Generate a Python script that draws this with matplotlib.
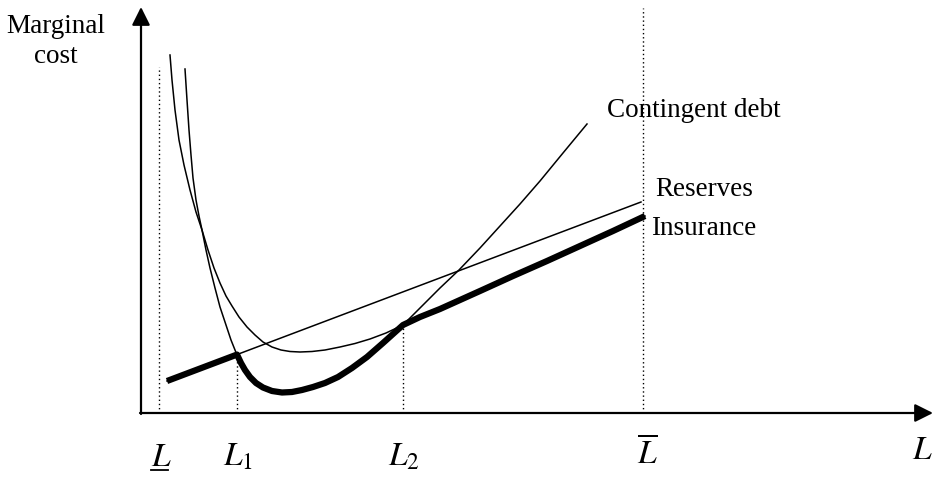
import matplotlib
matplotlib.use("Agg")
import matplotlib.pyplot as plt
import numpy as np

plt.rcParams["font.family"] = ["Liberation Serif", "DejaVu Serif"]
plt.rcParams["mathtext.fontset"] = "stix"

# curves (L on x, marginal cost on y)
ins_L = [29, 31, 34, 38, 43, 49, 55, 61, 67, 73, 79, 85, 91, 98, 106, 114, 122, 131, 140, 149,
         159, 171, 184, 199, 214, 229, 245, 262, 279, 299, 319, 339, 372, 406, 439, 472, 504]
ins_mc = [358, 333, 303, 273, 248, 223, 201, 183, 163, 145, 130, 117, 107, 96, 86, 78, 71, 66, 63, 61.5,
          61, 61.5, 63, 66, 69.5, 74, 80, 88, 96, 104, 113, 122, 137, 152, 167, 182, 197]

debt_L = [44, 46, 48, 50, 52, 55, 58, 61, 65, 69, 74, 79, 85, 90, 96, 100, 104, 109, 115, 122,
          131, 141, 151, 161, 172, 184, 197, 211, 226, 242, 262, 280, 299, 318, 339, 359, 379, 399, 422, 446]
debt_mc = [344, 313, 283, 258, 235, 213, 197, 183, 163, 145, 125, 106, 88, 73, 58, 50, 43, 36, 30, 25.5,
           22, 20.5, 21, 23, 26, 30, 36, 45, 56, 70, 88, 106, 125, 143, 165, 187, 209, 232, 260, 289]

res_L = [26, 500]
res_mc = [32, 211]

# marked levels on the L axis
L_low, L1, L2, L_bar = 18, 96, 262, 502
L_low_top, L_bar_top = 346, 405

fig = plt.figure(figsize=(9.36, 4.79), dpi=100)
ax = fig.add_axes([0, 0, 1, 1])
ax.set_xlim(-141, 795)
ax.set_ylim(-66, 413)
ax.axis("off")

thin = 1.1
ax.plot(res_L, res_mc, color="black", lw=thin)
ax.plot(ins_L, ins_mc, color="black", lw=thin, solid_joinstyle="round")
ax.plot(debt_L, debt_mc, color="black", lw=thin, solid_joinstyle="round")

# thick lower envelope: reserves -> contingent debt -> insurance
res_at_L1 = np.interp(L1, res_L, res_mc)
env_L = [res_L[0], L1]
env_mc = [res_mc[0], res_at_L1]
for l, m in zip(debt_L, debt_mc):
    if L1 < l <= L2:
        env_L.append(l)
        env_mc.append(m)
for l, m in zip(ins_L, ins_mc):
    if l > L2:
        env_L.append(l)
        env_mc.append(m)
ax.plot(env_L, env_mc, color="black", lw=4.5, solid_capstyle="butt", solid_joinstyle="round")

# dotted verticals
dots = (0, (1, 2))
ax.plot([L_low, L_low], [0, L_low_top], color="black", lw=1, ls=dots)
ax.plot([L1, L1], [0, np.interp(L1, debt_L, debt_mc)], color="black", lw=1, ls=dots)
ax.plot([L2, L2], [0, np.interp(L2, ins_L, ins_mc)], color="black", lw=1, ls=dots)
ax.plot([L_bar, L_bar], [0, L_bar_top], color="black", lw=1, ls=dots)

# axes with arrows
arr = dict(arrowstyle="-|>,head_length=1.1,head_width=0.55", lw=1.6, color="black",
           shrinkA=0, shrinkB=0, mutation_scale=10)
ax.annotate("", xy=(792, 0), xytext=(-1, 0), arrowprops=arr)
ax.annotate("", xy=(0, 406), xytext=(0, -1), arrowprops=arr)

fs = 19.5
ax.text(-85, 380, "Marginal", fontsize=fs, ha="center", va="baseline")
ax.text(-85, 350, "cost", fontsize=fs, ha="center", va="baseline")
ax.text(466, 296, "Contingent debt", fontsize=fs, ha="left", va="baseline")
ax.text(514, 217, "Reserves", fontsize=fs, ha="left", va="baseline")
ax.text(510, 178, "Insurance", fontsize=fs, ha="left", va="baseline")

ms = 24
ax.text(10, -53, r"$L$", fontsize=ms, ha="left", va="baseline")
ax.plot([10, 27], [-57, -57], color="black", lw=1.3)   # underline of lower bound
ax.text(82, -53, r"$L_1$", fontsize=ms, ha="left", va="baseline")
ax.text(247, -53, r"$L_2$", fontsize=ms, ha="left", va="baseline")
ax.text(496, -50, r"$\overline{L}$", fontsize=ms, ha="left", va="baseline")
ax.text(771, -46, r"$L$", fontsize=ms, ha="left", va="baseline")

fig.savefig("out.png", dpi=100)
